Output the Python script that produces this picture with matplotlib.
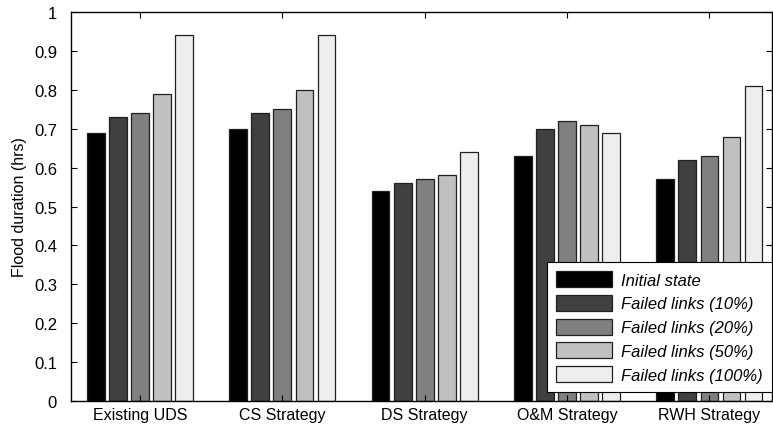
import numpy as np
import matplotlib
matplotlib.use("Agg")
import matplotlib.pyplot as plt

plt.rcParams["font.family"] = ["Liberation Sans", "DejaVu Sans"]

strategies = ["Existing UDS", "CS Strategy", "DS Strategy", "O&M Strategy", "RWH Strategy"]
scenarios = ["Initial state", "Failed links (10%)", "Failed links (20%)",
             "Failed links (50%)", "Failed links (100%)"]

initial_state = [0.69, 0.70, 0.54, 0.63, 0.57]
failed_10 = [0.73, 0.74, 0.56, 0.70, 0.62]
failed_20 = [0.74, 0.75, 0.57, 0.72, 0.63]
failed_50 = [0.79, 0.80, 0.58, 0.71, 0.68]
failed_100 = [0.94, 0.94, 0.64, 0.69, 0.81]

series = [initial_state, failed_10, failed_20, failed_50, failed_100]
colors = ["#000000", "#404040", "#808080", "#c0c0c0", "#eeeeee"]

fig = plt.figure(figsize=(7.73, 4.27), dpi=100)
ax = fig.add_axes([0.0918, 0.0585, 0.907, 0.911])

x = np.arange(1, len(strategies) + 1)
pitch = 0.155
width = 0.125
for i, (vals, col) in enumerate(zip(series, colors)):
    offs = (i - 2) * pitch
    ax.bar(x + offs, vals, width, color=col, edgecolor="#202020",
           linewidth=0.9, label=scenarios[i])

ax.set_xlim(0.515, 5.44)
ax.set_ylim(0, 1)
ax.set_xticks(x)
ax.set_xticklabels(strategies, fontsize=11.5)
ax.set_yticks(np.arange(0, 1.01, 0.1))
ax.set_yticklabels(["0", "0.1", "0.2", "0.3", "0.4", "0.5", "0.6", "0.7", "0.8", "0.9", "1"],
                   fontsize=12)
ax.set_ylabel("Flood duration (hrs)", fontsize=11.5)
ax.yaxis.set_label_coords(-0.062, 0.5)

ax.tick_params(direction="in", length=4.5, width=0.8, top=True, right=True)
ax.tick_params(axis="y", pad=10)
ax.tick_params(axis="x", pad=4)
for sp in ax.spines.values():
    sp.set_linewidth(1.0)

leg = ax.legend(loc="lower right", bbox_to_anchor=(1.0, 9 / 389),
                prop={"style": "italic", "size": 12},
                fancybox=False, edgecolor="black", framealpha=1,
                handlelength=3.35, handleheight=1.1, borderaxespad=0,
                labelspacing=0.43, handletextpad=0.55, borderpad=0.55)
leg.get_frame().set_linewidth(0.8)

fig.savefig("out.png", dpi=100)
